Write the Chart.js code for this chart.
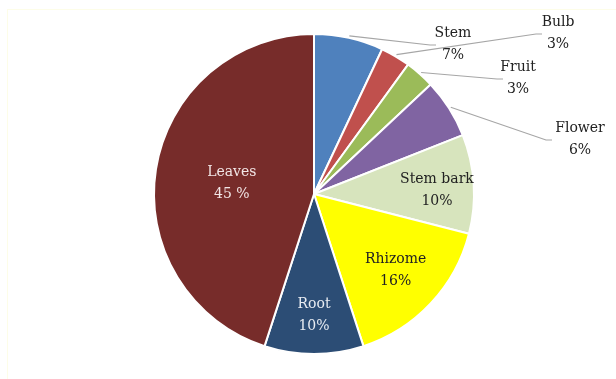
<!DOCTYPE html>
<html>
<head>
<meta charset="utf-8">
<script src="https://cdn.jsdelivr.net/npm/chart.js@4/dist/chart.umd.min.js"></script>
<style>
html,body{margin:0;padding:0;background:#fff;overflow:hidden;}
#wrap{position:relative;width:616px;height:379px;}
#frame{position:absolute;left:7px;top:9px;width:620px;height:380px;border-top:1px solid #fdfde8;border-left:1px solid #fdfde8;}
canvas{position:absolute;left:0;top:0;}
</style>
</head>
<body>
<div id="wrap">
<div id="frame"></div>
<canvas id="pieChart" width="616" height="379"></canvas>
</div>
<script>

// categories and shares (%)
const parts = ["Stem","Bulb","Fruit","Flower","Stem bark","Rhizome","Root","Leaves"]
const shares = [7,3,3,6,10,16,10,45]
const pctLabels = ["7%","3%","3%","6%","10%","16%","10%","45 %"]

const colors = ["#4f81bd","#c0504d","#9bbb59","#8064a2","#d7e4bd","#ffff00","#2c4d75","#772c2a"]
const textColors = ["#222","#222","#222","#222","#222","#222","#e8ecf2","#f2e6e6"]

// label placement: inside (radius fraction) or outside with leader (offset from center)
const labelPos = [
{out:true, x:139, y:-150, lx:116},
{out:true, x:244, y:-161, lx:222},
{out:true, x:204, y:-116, lx:183},
{out:true, x:266, y:-55, lx:232},
{r:0.77, dy:4},
{r:0.7, dy:0},
{r:0.75, dy:1},
{r:0.52, dy:2}
]

const labelPlugin = {
id:"labelPlugin",
afterDatasetsDraw(chart){
const ctx = chart.ctx
const meta = chart.getDatasetMeta(0)
ctx.save()
ctx.font = "14px 'DejaVu Serif'"
ctx.textAlign = "center"
ctx.textBaseline = "middle"
meta.data.forEach((arc,i)=>{
const p = arc.getProps(["x","y","startAngle","endAngle","outerRadius"],true)
const mid = (p.startAngle+p.endAngle)/2
const pos = labelPos[i]
let tx,ty
if(pos.out){
tx = p.x+pos.x
ty = p.y+pos.y
// leader line
const sx = p.x+Math.cos(mid)*(p.outerRadius+2)
const sy = p.y+Math.sin(mid)*(p.outerRadius+2)
ctx.strokeStyle = "#a6a6a6"
ctx.lineWidth = 1.2
ctx.beginPath()
ctx.moveTo(sx,sy)
ctx.lineTo(p.x+pos.lx,p.y+pos.y+1)
ctx.lineTo(p.x+pos.lx+6,p.y+pos.y+1)
ctx.stroke()
} else {
tx = p.x+Math.cos(mid)*p.outerRadius*pos.r
ty = p.y+Math.sin(mid)*p.outerRadius*pos.r+pos.dy
}
ctx.fillStyle = textColors[i]
ctx.fillText(parts[i],tx,ty-11)
ctx.fillText(pctLabels[i],tx,ty+11)
})
ctx.restore()
}
}

const chart = new Chart(document.getElementById("pieChart"),{
type:"pie",
data:{
labels:parts,
datasets:[{
data:shares,
backgroundColor:colors,
borderColor:"#ffffff",
borderWidth:2
}]
},
options:{
responsive:false,
animation:false,
layout:{padding:{top:33,bottom:24,left:153,right:141}},
plugins:{
legend:{display:false},
tooltip:{enabled:false}
}
},
plugins:[labelPlugin]
})

</script>
</body>
</html>
